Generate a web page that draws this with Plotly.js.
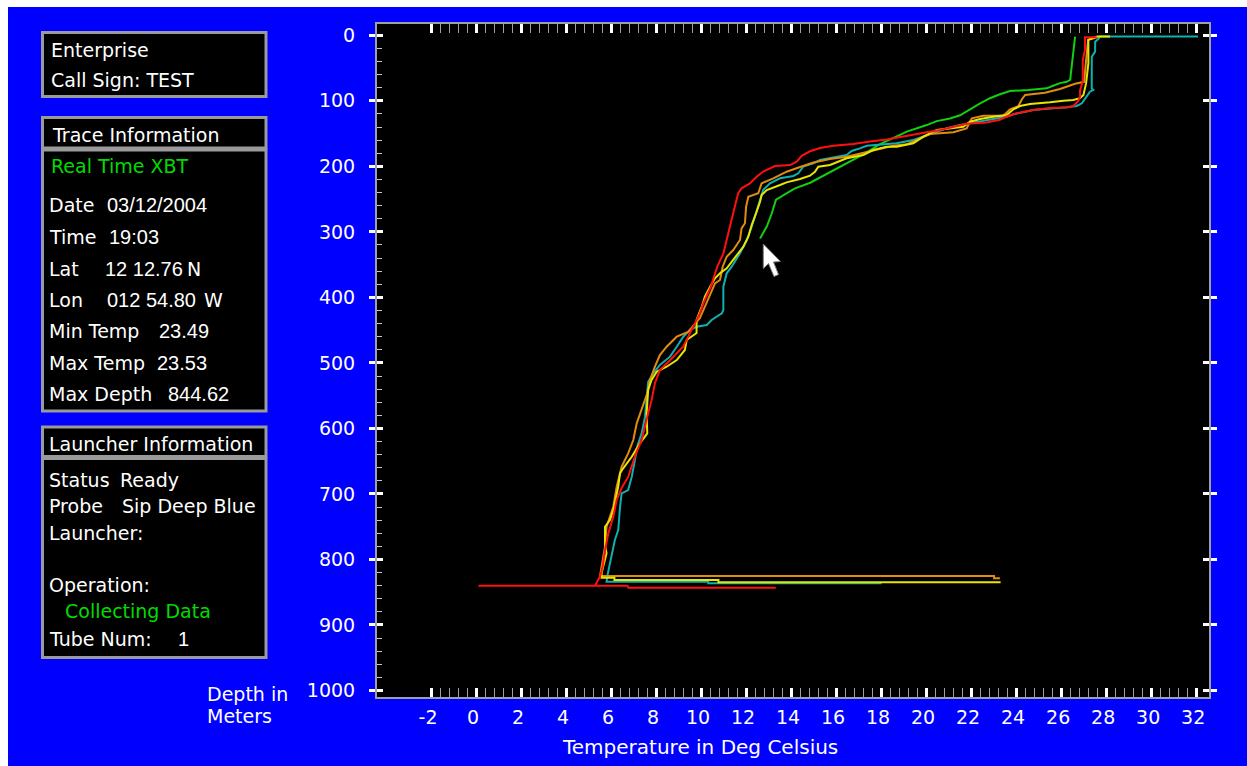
<!DOCTYPE html>
<html>
<head>
<meta charset="utf-8">
<script src="https://cdn.plot.ly/plotly-3.0.1.min.js"></script>
<style>
  html, body { margin: 0; padding: 0; background: #ffffff; width: 1247px; height: 766px; overflow: hidden; }
  #chart { position: absolute; left: 8px; top: 7px; width: 1239px; height: 759px; }
</style>
</head>
<body>
<div id="chart"></div>
<script>
// ---------------- DATA ----------------
// Temperature (deg C) and depth (m) samples for each XBT trace.
const tempGreen = [26.62, 26.57, 26.47, 26.43, 26.40, 26.25, 25.95, 25.64, 25.36, 24.54, 23.73, 23.28, 22.84, 22.40, 21.95, 21.51, 21.06, 20.47, 20.03, 19.58, 19.14, 18.84, 17.95, 17.25, 16.40, 15.50, 14.85, 14.15, 13.51, 13.33, 13.14, 12.92, 12.62];
const depthGreen = [2, 17, 43, 61, 68, 71, 73, 77, 81, 83.5, 85, 90, 96, 104, 113, 122, 127, 131, 137, 142, 147, 152, 166, 181, 197, 214, 225, 234, 247, 251, 272, 292, 310];

const tempCyan = [32.08, 27.73, 27.65, 27.51, 27.51, 27.36, 27.36, 27.43, 27.28, 27.14, 26.92, 26.69, 26.25, 25.51, 24.76, 23.88, 23.58, 22.99, 22.25, 21.80, 21.51, 20.92, 20.03, 19.43, 18.69, 17.95, 17.36, 17.06, 16.69, 16.47, 15.73, 15.28, 14.99, 14.54, 14.32, 14.10, 13.51, 13.06, 12.76, 12.62, 12.44, 12.25, 12.03, 11.73, 11.36, 11.14, 10.99, 10.99, 10.99, 10.92, 10.47, 10.25, 9.80, 9.51, 9.21, 8.92, 8.62, 8.17, 7.88, 7.65, 7.58, 7.51, 7.36, 7.16, 7.06, 6.92, 6.76, 6.47, 6.40, 6.32, 6.17, 6.03, 5.92, 5.83, 5.80, 10.32, 10.32, 18.02];
const depthCyan = [2, 2, 5.6, 9.8, 25, 32.7, 80.9, 83.5, 86.1, 93.7, 103.8, 107.9, 109.9, 111.7, 114, 120.6, 124.2, 127.7, 131.9, 134.3, 136.9, 141.9, 152.2, 159.8, 164.8, 167.4, 168.5, 172.5, 176.6, 182.7, 187.7, 190.3, 195.4, 200.5, 210.6, 214.7, 218.3, 225.9, 236.1, 251.4, 271.7, 292.1, 312.4, 332.7, 353.2, 363.2, 383.7, 409, 419.3, 424.3, 434.5, 442.2, 444.7, 449.8, 460, 475.3, 490.5, 503.2, 515.9, 528.7, 551.6, 582.1, 607.5, 627.9, 648.2, 673.7, 694, 699, 719.5, 755, 770.3, 790.6, 811.1, 826.3, 833.9, 833.9, 836.4, 836.4];

const tempOrange = [27.60, 27.20, 27.11, 27.02, 26.62, 25.95, 25.28, 24.40, 24.25, 24.10, 23.73, 23.43, 22.54, 22.03, 21.80, 21.21, 20.17, 19.58, 19.14, 18.54, 17.95, 17.21, 16.47, 15.73, 14.99, 14.40, 13.80, 13.21, 12.69, 12.54, 12.10, 12.00, 11.95, 11.80, 11.73, 11.43, 11.14, 10.96, 10.84, 10.62, 10.25, 9.95, 9.42, 8.92, 8.47, 8.17, 7.95, 7.73, 7.61, 7.14, 6.99, 6.76, 6.47, 6.25, 6.10, 5.80, 5.73, 5.58, 5.51, 23.02, 23.02, 23.28];
const depthOrange = [3, 7, 38, 71, 74, 82, 87.6, 91, 98, 108, 113, 122.7, 122.7, 126.7, 142, 148, 150.6, 159.8, 166.4, 168.5, 173.5, 180, 185.3, 188.8, 194.1, 201, 208.2, 218.3, 225.9, 241.1, 246.3, 261.6, 286.9, 294.6, 312.4, 327.7, 337.9, 353.2, 373.5, 378.5, 409, 431.5, 452.8, 460, 475.3, 488, 505.8, 526.1, 546.4, 592.2, 617.7, 638, 658.4, 688.9, 719.5, 750, 780.5, 811.1, 825.3, 825.3, 828.8, 828.8];

const tempYellow = [28.17, 27.60, 27.21, 27.21, 27.11, 26.99, 26.84, 26.54, 26.10, 25.51, 24.62, 24.17, 23.88, 23.58, 22.99, 22.40, 21.95, 21.65, 20.47, 19.88, 19.43, 18.69, 18.25, 17.65, 17.21, 16.47, 15.73, 15.21, 15.06, 14.84, 14.40, 13.80, 13.51, 12.92, 12.69, 12.62, 12.47, 12.25, 12.10, 11.88, 11.65, 11.43, 11.14, 10.84, 10.62, 10.40, 10.17, 10.03, 9.80, 9.80, 9.36, 9.28, 8.92, 8.47, 8.03, 7.80, 7.65, 7.58, 7.61, 7.28, 6.92, 6.54, 6.40, 6.32, 6.10, 5.95, 5.73, 5.73, 5.80, 5.65, 5.58, 5.58, 6.15, 6.15, 10.77, 10.77, 23.31];
const depthYellow = [2, 2, 7, 43, 73, 91, 96, 98.7, 99.8, 102.3, 104.9, 108, 113, 121.6, 124.2, 127.7, 131.9, 139.5, 144.5, 154.8, 164.8, 170, 170, 175.1, 182.7, 187.7, 198, 200.5, 208.2, 214.3, 219.3, 224.4, 228.5, 236.1, 243.8, 254, 269.2, 289.5, 307.4, 322.6, 332.7, 342.9, 355.6, 363.2, 370.9, 383.7, 399, 414.2, 434.5, 454.4, 465, 480.3, 495.6, 505.8, 513.4, 526.1, 541.4, 576.9, 607.5, 622.7, 643.2, 660.9, 668.5, 688.9, 724.5, 739.8, 750, 777.9, 790.6, 811.1, 821.1, 827.8, 827.8, 831.3, 831.3, 834.9, 834.9];

const tempRed = [27.58, 27.06, 27.06, 26.96, 26.96, 26.84, 26.84, 26.75, 26.54, 26.25, 25.51, 24.76, 24.03, 23.58, 23.28, 22.69, 21.80, 21.21, 20.62, 20.03, 19.28, 18.69, 18.25, 17.51, 16.76, 15.88, 15.28, 14.84, 14.47, 14.25, 13.95, 13.28, 12.76, 12.47, 12.17, 11.80, 11.65, 11.46, 11.36, 11.14, 10.99, 10.72, 10.43, 10.10, 9.95, 9.65, 9.43, 9.21, 8.62, 8.17, 7.95, 7.80, 7.61, 7.36, 7.11, 6.76, 6.47, 6.25, 6.10, 5.88, 5.73, 5.63, 5.51, 5.36, 5.28, 0.11, 6.73, 6.77, 13.32];
const depthRed = [3, 3, 22, 38, 71, 84, 94, 101, 108, 110, 111, 114, 119, 124, 129, 133, 135, 140, 144.5, 148, 153, 156, 159, 162, 166, 168.5, 172, 177, 184, 193, 198, 199.5, 208, 216, 226, 233.5, 241, 267, 282, 312, 333, 353, 384, 409, 424, 445, 460, 475, 496, 511, 531, 557, 582, 618, 638, 674, 691, 709, 735, 760, 786, 811, 826, 835.5, 840, 840, 840, 843, 843];

// Axis tick labels
const tempTickVals = [-2, 0, 2, 4, 6, 8, 10, 12, 14, 16, 18, 20, 22, 24, 26, 28, 30, 32];
const tempTickText = ['-2', '0', '2', '4', '6', '8', '10', '12', '14', '16', '18', '20', '22', '24', '26', '28', '30', '32'];
const depthTickVals = [0, 100, 200, 300, 400, 500, 600, 700, 800, 900, 1000];
const depthTickText = ['0', '100', '200', '300', '400', '500', '600', '700', '800', '900', '1000'];

// Side panel texts
const panelInfo = [
  ['Enterprise'], ['Call Sign: TEST'], ['Trace Information'], ['Real Time XBT'],
  ['Date', '03/12/2004'], ['Time', '19:03'], ['Lat', '12 12.76', 'N'], ['Lon', '012 54.80', 'W'],
  ['Min Temp', '23.49'], ['Max Temp', '23.53'], ['Max Depth', '844.62'],
  ['Launcher Information'], ['Status', 'Ready'], ['Probe', 'Sip Deep Blue'], ['Launcher:'],
  ['Operation:'], ['Collecting Data'], ['Tube Num:', '1']
];

// ---------------- LAYOUT HELPERS ----------------
const DIVX = 8, DIVY = 7;            // offset of the chart div inside the page
const W = 1239, H = 759;
const ML = 369, MR = 38, MT = 17, MB = 69;
const PW = W - ML - MR, PH = H - MT - MB;
function px(X) { return (X - DIVX - ML) / PW; }
function py(Y) { return 1 - (Y - DIVY - MT) / PH; }

const FONT = 'DejaVu Sans, Verdana, sans-serif';
const NUMFONT = 'Liberation Sans, Arial, sans-serif';
const WHITE = '#ffffff';
const GREENTXT = '#00dc00';
const GRAY = '#a0a0a0';

// minor tick positions
const tempMinor = [];
for (let i = 0; i <= 85; i++) { if (i % 5 !== 0) tempMinor.push(Math.round((-2 + 0.4 * i) * 10) / 10); }
const depthMinor = [];
for (let v = 0; v <= 1000; v += 20) { if (v % 100 !== 0) depthMinor.push(v); }

// ---------------- TRACES ----------------
function line(x, y, color) {
  return { type: 'scatter', mode: 'lines', x: x, y: y, xaxis: 'x', yaxis: 'y',
           line: { color: color, width: 2 }, hoverinfo: 'skip', showlegend: false };
}
const traces = [
  line(tempGreen, depthGreen, '#10d010'),
  line(tempCyan, depthCyan, '#10b0b0'),
  line(tempOrange, depthOrange, '#e08c10'),
  line(tempYellow, depthYellow, '#e6e600'),
  line(tempRed, depthRed, '#ff1010'),
  { type: 'scatter', mode: 'lines', x: [], y: [], xaxis: 'x', yaxis: 'y2', hoverinfo: 'skip', showlegend: false },
  { type: 'scatter', mode: 'lines', x: [], y: [], xaxis: 'x', yaxis: 'y3', hoverinfo: 'skip', showlegend: false }
];

// ---------------- PANEL BOXES ----------------
const boxes = [
  [42.5, 32.5, 266, 96.5],
  [42.5, 117.5, 266, 148],
  [42.5, 150, 266, 411],
  [42.5, 427, 266, 456.5],
  [42.5, 458.5, 266, 657.5]
];
const shapes = boxes.map(b => ({
  type: 'rect', xref: 'paper', yref: 'paper', layer: 'below',
  x0: px(b[0]), x1: px(b[2]), y0: py(b[1]), y1: py(b[3]),
  fillcolor: '#000000', line: { color: '#9a9a9a', width: 3 }
}));
// mouse pointer seen in the screenshot
const cur = [[763.3, 244], [763.3, 268.5], [768.5, 263.5], [774, 276.5], [778.5, 274.5], [773.5, 262], [780.5, 261.5]];
shapes.push({
  type: 'path', xref: 'paper', yref: 'paper', layer: 'above',
  path: 'M ' + cur.map(p => px(p[0]) + ',' + py(p[1])).join(' L ') + ' Z',
  fillcolor: '#ffffff', line: { color: '#808080', width: 1 }
});

// ---------------- PANEL TEXT ----------------
// [row index in panelInfo, part index, page x, page y, color, numeric font]
const textPlacement = [
  [0, 0, 49, 50], [1, 0, 49, 80], [2, 0, 50, 135], [3, 0, 49, 166, GREENTXT],
  [4, 0, 47, 205], [4, 1, 105, 205, null, 1],
  [5, 0, 47, 237], [5, 1, 107, 237, null, 1],
  [6, 0, 47, 269], [6, 1, 103, 269, null, 1], [6, 2, 185, 269],
  [7, 0, 47, 299.5], [7, 1, 105, 299.5, null, 1], [7, 2, 202, 299.5],
  [8, 0, 47, 331], [8, 1, 157, 331, null, 1],
  [9, 0, 47, 362.5], [9, 1, 155, 362.5, null, 1],
  [10, 0, 47, 394], [10, 1, 166, 394, null, 1],
  [11, 0, 47, 443.5],
  [12, 0, 47, 479.5], [12, 1, 118, 479.5],
  [13, 0, 47, 506], [13, 1, 120, 506],
  [14, 0, 47, 533],
  [15, 0, 47, 585],
  [16, 0, 63, 611, GREENTXT],
  [17, 0, 47, 638.5], [17, 1, 176, 638.5, null, 1]
];
const annotations = textPlacement.map(t => ({
  xref: 'paper', yref: 'paper', x: px(t[2]), y: py(t[3]),
  xanchor: 'left', yanchor: 'middle', showarrow: false,
  text: panelInfo[t[0]][t[1]],
  font: { family: t[5] ? NUMFONT : FONT, size: t[5] ? 20 : 19, color: t[4] || WHITE }
}));
// axis titles
annotations.push({ xref: 'paper', yref: 'paper', x: px(560), y: py(747), xanchor: 'left', yanchor: 'middle',
  showarrow: false, text: 'Temperature in Deg Celsius', font: { family: FONT, size: 20, color: WHITE } });
annotations.push({ xref: 'paper', yref: 'paper', x: px(205), y: py(693.5), xanchor: 'left', yanchor: 'middle',
  showarrow: false, text: 'Depth in', font: { family: FONT, size: 19, color: WHITE } });
annotations.push({ xref: 'paper', yref: 'paper', x: px(205), y: py(716), xanchor: 'left', yanchor: 'middle',
  showarrow: false, text: 'Meters', font: { family: FONT, size: 19, color: WHITE } });

// ---------------- AXES ----------------
const xRange = [-4.40, 32.57];
const yRange = [1009.9, -17.25];

const layout = {
  width: W, height: H,
  paper_bgcolor: '#0000ff', plot_bgcolor: '#000000',
  margin: { l: ML, r: MR, t: MT, b: MB, pad: 0, autoexpand: false },
  showlegend: false, hovermode: false,
  xaxis: {
    range: xRange, fixedrange: true, showgrid: false, zeroline: false,
    showline: true, linecolor: GRAY, linewidth: 2, mirror: 'allticks',
    tickmode: 'array', tickvals: tempTickVals, ticktext: tempTickText,
    ticks: 'inside', ticklen: 9, tickwidth: 3, tickcolor: WHITE,
    ticklabelstandoff: 2, ticklabelshift: -3,
    tickfont: { family: FONT, size: 19, color: WHITE },
    minor: { tickmode: 'array', tickvals: tempMinor, ticks: 'inside', ticklen: 6, tickwidth: 1, tickcolor: GRAY, showgrid: false }
  },
  yaxis: {
    range: yRange, fixedrange: true, showgrid: false, zeroline: false,
    showline: true, linecolor: GRAY, linewidth: 2, mirror: 'allticks',
    tickmode: 'array', tickvals: depthTickVals, ticktext: depthTickText,
    ticks: 'outside', ticklen: 6, tickwidth: 3, tickcolor: WHITE,
    ticklabelstandoff: 10,
    tickfont: { family: FONT, size: 19, color: WHITE }
  },
  yaxis2: {
    overlaying: 'y', range: yRange, fixedrange: true, showgrid: false, zeroline: false,
    showline: false, mirror: 'ticks', side: 'left',
    tickmode: 'array', tickvals: depthTickVals, showticklabels: false,
    ticks: 'inside', ticklen: 6, tickwidth: 3, tickcolor: WHITE
  },
  yaxis3: {
    overlaying: 'y', range: yRange, fixedrange: true, showgrid: false, zeroline: false,
    showline: false, side: 'left',
    tickmode: 'array', tickvals: depthMinor, showticklabels: false,
    ticks: 'inside', ticklen: 5, tickwidth: 1, tickcolor: '#c8c8c8'
  },
  shapes: shapes,
  annotations: annotations
};

Plotly.newPlot('chart', traces, layout, { displayModeBar: false, staticPlot: true });
</script>
</body>
</html>
